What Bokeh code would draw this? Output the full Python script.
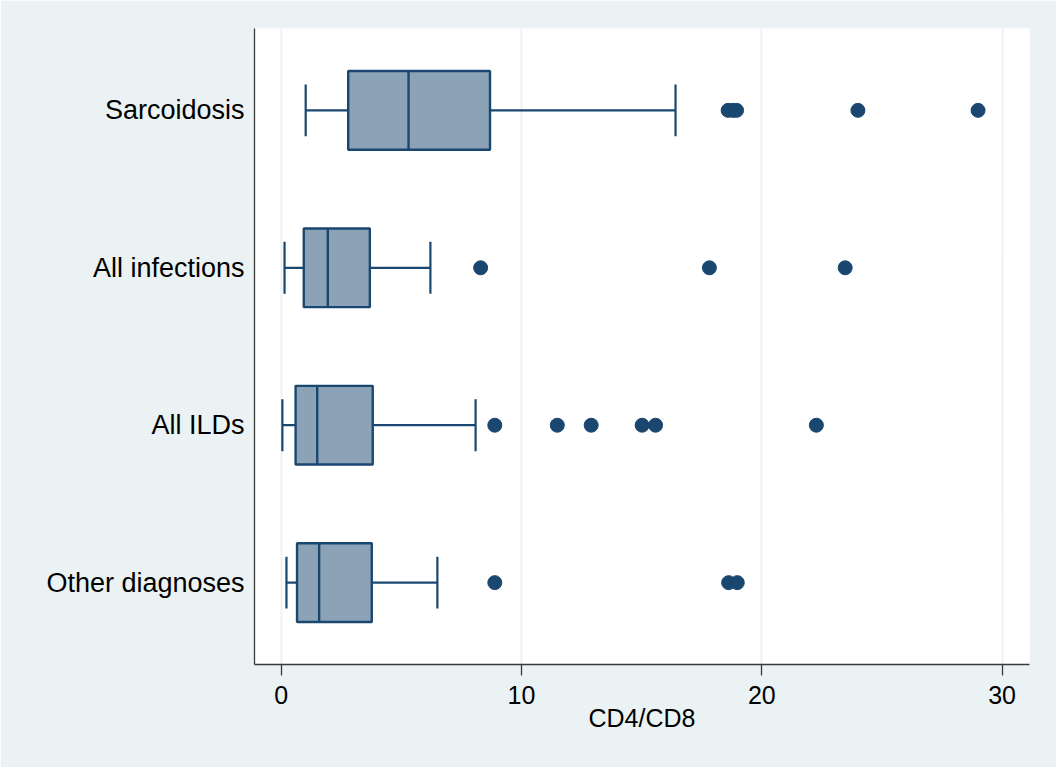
from bokeh.plotting import figure
from bokeh.models import FixedTicker, Range1d, ColumnDataSource
from bokeh.embed import file_html
from bokeh.resources import INLINE

# ---- data ----
categories = ["Sarcoidosis", "All infections", "All ILDs", "Other diagnoses"]
lower_whisker = [1.02, 0.14, 0.05, 0.22]
q1 = [2.79, 0.94, 0.60, 0.66]
median = [5.30, 1.94, 1.50, 1.58]
q3 = [8.69, 3.69, 3.81, 3.77]
upper_whisker = [16.41, 6.21, 8.09, 6.50]
outliers_sarcoidosis = [18.6, 18.8, 18.95, 24.0, 29.0]
outliers_infections = [8.30, 17.82, 23.47]
outliers_ilds = [8.89, 11.49, 12.90, 15.02, 15.58, 22.27]
outliers_other = [8.89, 18.62, 18.98]
x_ticks = [0, 10, 20, 30]

outlier_lists = [outliers_sarcoidosis, outliers_infections, outliers_ilds, outliers_other]
n = len(categories)
ypos = [n - i for i in range(n)]  # Sarcoidosis at top

NAVY = "#1A476F"
FILL = "#8CA3B7"
BG = "#EAF2F3"

p = figure(width=1056, height=767, output_backend="svg", toolbar_location=None,
           x_range=Range1d(-1.11, 31.14), y_range=Range1d(0.48, 4.52),
           min_border_left=254, min_border_right=27, min_border_top=28, min_border_bottom=103)
p.border_fill_color = BG
p.background_fill_color = "white"
p.outline_line_color = None

box = ColumnDataSource(dict(y=ypos, q1=q1, q3=q3, med=median, lo=lower_whisker, hi=upper_whisker))

BOX_H = 0.5
CAP_H = 0.33

# whiskers
p.segment(x0="lo", y0="y", x1="q1", y1="y", source=box, line_color=NAVY, line_width=2.2)
p.segment(x0="q3", y0="y", x1="hi", y1="y", source=box, line_color=NAVY, line_width=2.2)
# caps
cap = ColumnDataSource(dict(lo=lower_whisker, hi=upper_whisker,
                            y0=[y - CAP_H / 2 for y in ypos], y1=[y + CAP_H / 2 for y in ypos]))
p.segment(x0="lo", y0="y0", x1="lo", y1="y1", source=cap, line_color=NAVY, line_width=2.2)
p.segment(x0="hi", y0="y0", x1="hi", y1="y1", source=cap, line_color=NAVY, line_width=2.2)
# boxes
p.hbar(y="y", left="q1", right="q3", height=BOX_H, source=box,
       fill_color=FILL, line_color=NAVY, line_width=2.4)
# medians
med = ColumnDataSource(dict(m=median, y0=[y - BOX_H / 2 for y in ypos], y1=[y + BOX_H / 2 for y in ypos]))
p.segment(x0="m", y0="y0", x1="m", y1="y1", source=med, line_color=NAVY, line_width=2.4)

# outliers
ox, oy = [], []
for y, lst in zip(ypos, outlier_lists):
    for v in lst:
        ox.append(v)
        oy.append(y)
p.scatter(ox, oy, size=14, fill_color=NAVY, line_color=NAVY, marker="circle")

# axes
p.xaxis.ticker = FixedTicker(ticks=x_ticks)
p.xaxis.axis_label = "CD4/CD8"
p.xaxis.axis_label_text_font = "Liberation Sans"
p.xaxis.axis_label_text_font_style = "normal"
p.xaxis.axis_label_text_font_size = "25px"
p.xaxis.axis_label_text_color = "black"
p.xaxis.axis_label_standoff = -3
p.xaxis.major_label_text_font = "Liberation Sans"
p.xaxis.major_label_text_font_size = "25px"
p.xaxis.major_label_text_color = "black"
p.xaxis.major_label_standoff = 10
p.xaxis.major_tick_out = 11
p.xaxis.major_tick_in = 0
p.xaxis.minor_tick_line_color = None
p.xaxis.axis_line_color = "#3a3a3a"
p.xaxis.axis_line_width = 1.3
p.xaxis.major_tick_line_color = "#3a3a3a"
p.xaxis.major_tick_line_width = 1.3

p.yaxis.ticker = FixedTicker(ticks=ypos)
p.yaxis.major_label_overrides = {y: c for y, c in zip(ypos, categories)}
p.yaxis.major_label_text_font = "Liberation Sans"
p.yaxis.major_label_text_font_size = "27px"
p.yaxis.major_label_text_color = "black"
p.yaxis.major_label_standoff = 4
p.yaxis.major_tick_line_color = None
p.yaxis.minor_tick_line_color = None
p.yaxis.axis_line_color = "#3a3a3a"
p.yaxis.axis_line_width = 1.3

p.ygrid.grid_line_color = None
p.xgrid.grid_line_color = BG
p.xgrid.grid_line_width = 2

open("out.html", "w").write(file_html(p, INLINE))
